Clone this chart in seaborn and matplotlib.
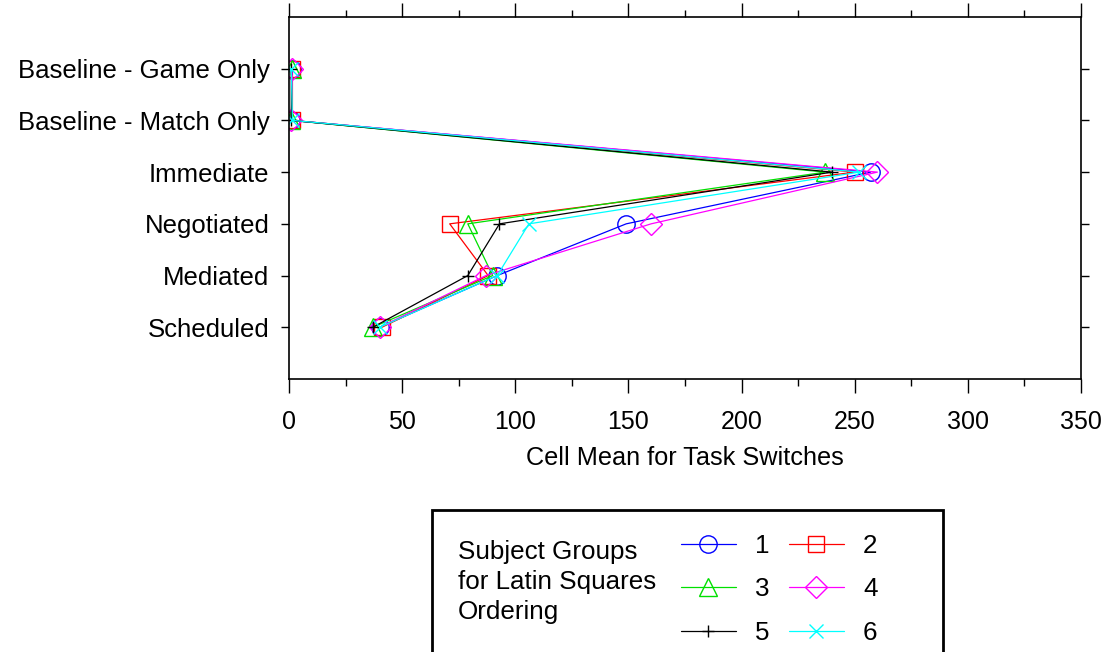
import matplotlib
matplotlib.use("Agg")
import matplotlib.pyplot as plt
from matplotlib.patches import Rectangle
from matplotlib.ticker import MultipleLocator
import numpy as np
import pandas as pd
import seaborn as sns

# DATA
conditions = ["Baseline - Game Only", "Baseline - Match Only", "Immediate",
              "Negotiated", "Mediated", "Scheduled"]
groups = ["1", "2", "3", "4", "5", "6"]
g1 = [1.5, 1.0, 257, 149, 92, 40]
g2 = [1.5, 1.5, 250, 71, 88, 41]
g3 = [1.5, 1.0, 237, 79, 90, 37]
g4 = [1.5, 1.0, 260, 160, 87, 40]
g5 = [1.0, 1.0, 240, 93, 79, 37]
g6 = [1.0, 1.5, 252, 106, 92, 40]
xticks = [0, 50, 100, 150, 200, 250, 300, 350]

colors = {"1": "#0000ff", "2": "#ff0000", "3": "#00e000",
          "4": "#ff00ff", "5": "#000000", "6": "#00ffff"}
markers = {"1": "o", "2": "s", "3": "^", "4": "D", "5": "+", "6": "x"}
msizes = {"1": 12.5, "2": 11.5, "3": 13.5, "4": 11.5, "5": 8, "6": 10}

# LONG TABLE FOR SEABORN
rows = []
for g, vals in zip(groups, [g1, g2, g3, g4, g5, g6]):
    for i, v in enumerate(vals):
        rows.append({"group": g, "pos": i, "value": v})
df = pd.DataFrame(rows)

sns.set_style("white")
plt.rcParams["font.family"] = ["Liberation Sans", "DejaVu Sans"]
plt.rcParams["text.color"] = "black"
plt.rcParams["xtick.color"] = "black"
plt.rcParams["ytick.color"] = "black"
plt.rcParams["axes.labelcolor"] = "black"

fig = plt.figure(figsize=(11.1, 6.52), dpi=100)
ax = fig.add_axes([0.2604, 0.4187, 0.7135, 0.5553])

handles = []
for g in groups:
    sub = df[df["group"] == g]
    sns.lineplot(data=sub, x="value", y="pos", sort=False, estimator=None,
                 color=colors[g], marker=markers[g], mfc="none",
                 mec=colors[g], ms=msizes[g], mew=1.0, linewidth=0.9,
                 legend=False, ax=ax)
    h, = ax.plot([], [], color=colors[g], marker=markers[g], mfc="none",
                 ms=msizes[g], mew=1.0, lw=0.9)
    handles.append(h)

ax.set_xlim(0, 350)
ax.set_ylim(6, -1)
ax.set_yticks(range(len(conditions)))
ax.set_yticklabels(conditions, fontsize=18.5)
ax.set_xticks(xticks)
ax.set_xticklabels([str(t) for t in xticks], fontsize=18)
ax.xaxis.set_minor_locator(MultipleLocator(25))
ax.set_xlabel("Cell Mean for Task Switches", fontsize=18.2, labelpad=9)
ax.set_ylabel("")

ax.tick_params(axis="x", which="major", direction="out", length=10, width=1,
               top=True, bottom=True, pad=12, color="black")
ax.tick_params(axis="x", which="minor", direction="out", length=5, width=1,
               top=True, bottom=True, color="black")
ax.tick_params(axis="y", which="major", direction="out", length=6, width=1,
               left=True, right=True, pad=8, color="black")
for s in ax.spines.values():
    s.set_color("black")
    s.set_linewidth(1.2)

# LEGEND BOX
fig.patches.append(Rectangle((432 / 1110, -0.05), (943 - 432) / 1110,
                             1 - 510 / 652 + 0.05, transform=fig.transFigure,
                             fill=False, edgecolor="black", linewidth=2))
fig.text(458 / 1110, 1 - 540 / 652, "Subject Groups\nfor Latin Squares\nOrdering",
         fontsize=18.7, va="top", ha="left", linespacing=1.32)
order = [0, 2, 4, 1, 3, 5]
fig.legend([handles[i] for i in order], [groups[i] for i in order],
           loc="upper left", bbox_to_anchor=(681 / 1110, 1 - 534 / 652),
           ncol=2, frameon=False, fontsize=18.7, handlelength=2.1,
           handletextpad=0.75, columnspacing=0.75, labelspacing=0.75,
           borderpad=0, borderaxespad=0)

fig.savefig("out.png", dpi=100)
